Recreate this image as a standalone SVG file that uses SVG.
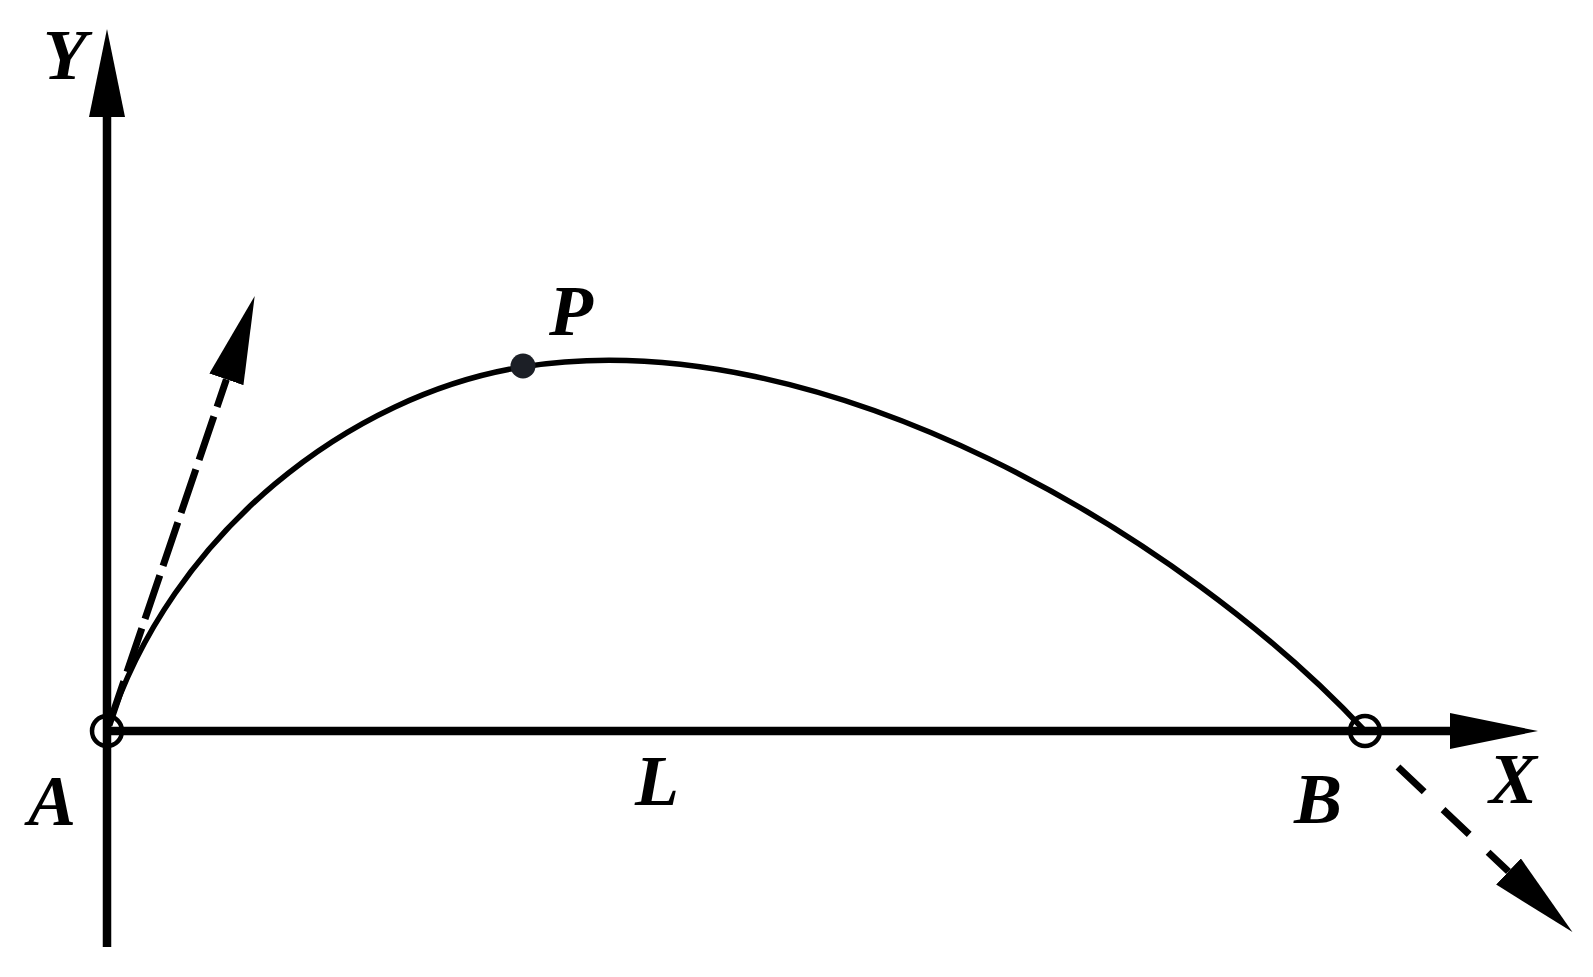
<svg xmlns="http://www.w3.org/2000/svg" width="1593" height="977" viewBox="0 0 1593 977">
<style>
.axis{stroke:#000;stroke-width:8.5;fill:none}
.curve{stroke:#000;stroke-width:5.5;fill:none;stroke-linecap:round}
.dash{stroke:#000;stroke-width:7;fill:none}
.ring{stroke:#000;stroke-width:4.5;fill:none}
</style>
<defs>
<marker id="arrow" markerUnits="userSpaceOnUse" markerWidth="88" markerHeight="36" viewBox="0 0 88 36" refX="0" refY="18" orient="auto">
<path d="M0,0 L88,18 L0,36 Z" fill="#000"/>
</marker>
</defs>
<rect width="1593" height="977" fill="#fff"/>
<g id="connectors">
<line id="y-axis" class="axis" x1="107" y1="947" x2="107" y2="117" marker-end="url(#arrow)"/>
<line id="x-axis" class="axis" x1="107" y1="731" x2="1450" y2="731" marker-end="url(#arrow)"/>
<path id="trajectory" class="curve" d="M107,731 C171,531 352,394 522,367 C822,319 1185,538 1365,731"/>
<line id="tangent-A" class="dash" x1="109" y1="725" x2="226.4" y2="379.4" stroke-dasharray="46 10" marker-end="url(#arrow)"/>
<line id="tangent-B" class="dash" x1="1398" y1="767" x2="1508.5" y2="871.5" stroke-dasharray="36 26" marker-end="url(#arrow)"/>
</g>
<g font-family="Liberation Serif, Times New Roman, serif" font-weight="700" font-style="italic" font-size="72" fill="#000" text-anchor="middle">
<g id="node-A">
<circle class="ring" cx="107" cy="731" r="15" fill="none"/>
<text x="52" y="825">A</text>
</g>
<g id="node-B">
<circle class="ring" cx="1365" cy="731" r="15" fill="none"/>
<text x="1318" y="823">B</text>
</g>
<g id="node-P">
<circle cx="523" cy="366" r="12.5" fill="#1c1f26"/>
<text x="571" y="335">P</text>
</g>
<g id="label-Y">
<text x="65" y="79">Y</text>
</g>
<g id="label-X">
<text x="1513" y="803">X</text>
</g>
<g id="label-L">
<text x="657" y="805">L</text>
</g>
</g>
</svg>
